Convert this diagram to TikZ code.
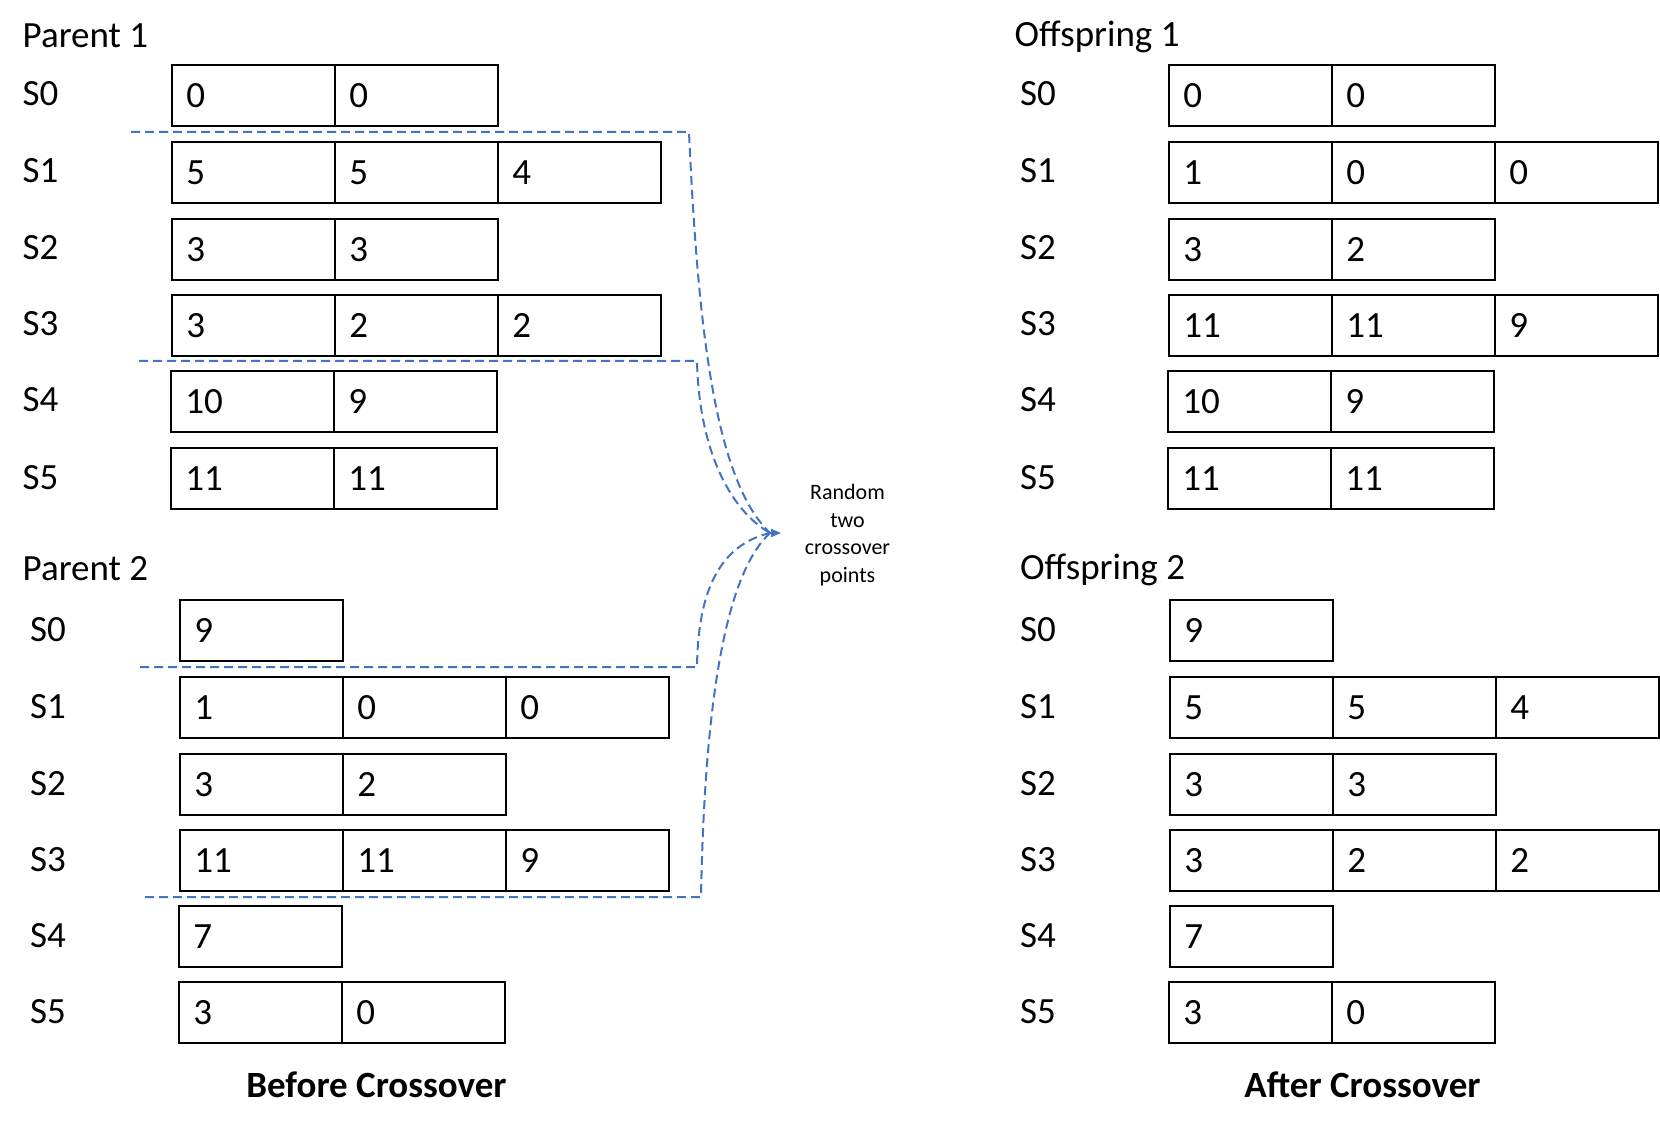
\documentclass[tikz,border=0pt]{standalone}
\usepackage{fontspec}
\setmainfont{Carlito}
\usetikzlibrary{arrows.meta}
\definecolor{dashblue}{HTML}{4472C4}
\newcommand{\gcrow}[4]{%
  \foreach \v [count=\i from 0] in {#4} {\node[cell] (#1-\i) at ({#2+163*\i},#3) {\v};}}
\begin{document}
\begin{tikzpicture}[x=1pt,y=-1pt,
  cell/.style={draw, line width=1.8pt, minimum width=163pt, minimum height=61pt,
    inner xsep=14.5pt, inner ysep=0pt, text width=134pt, align=left,
    text height=23.5pt, text depth=0pt, anchor=north west,
    font=\fontsize{37}{44}\selectfont},
  lbl/.style={anchor=base west, inner sep=0pt, font=\fontsize{37}{44}\selectfont},
  ttl/.style={anchor=base, inner sep=0pt, font=\bfseries\fontsize{37}{44}\selectfont},
  cross/.style={draw=dashblue, line width=2pt, dash pattern=on 9pt off 5pt},
]
\useasboundingbox (0,0) rectangle (1660,1131);
\fill[white] (0,0) rectangle (1660,1131);

% ---------- Parent 1 ----------
\node[lbl] (p1t) at (22.5,48) {Parent 1};
\node[lbl] (p1l0) at (22.5,106) {S0};
\node[lbl] (p1l1) at (22.5,183) {S1};
\node[lbl] (p1l2) at (22.5,260) {S2};
\node[lbl] (p1l3) at (22.5,336) {S3};
\node[lbl] (p1l4) at (22.5,412) {S4};
\node[lbl] (p1l5) at (22.5,489) {S5};
\gcrow{p1s0}{171}{64}{0,0}
\gcrow{p1s1}{171}{141}{5,5,4}
\gcrow{p1s2}{171}{218}{3,3}
\gcrow{p1s3}{171}{294}{3,2,2}
\gcrow{p1s4}{170}{370}{10,9}
\gcrow{p1s5}{170}{447}{11,11}

% ---------- Parent 2 ----------
\node[lbl] (p2t) at (22.5,580) {Parent 2};
\node[lbl] (p2l0) at (30,641) {S0};
\node[lbl] (p2l1) at (30,718) {S1};
\node[lbl] (p2l2) at (30,795) {S2};
\node[lbl] (p2l3) at (30,871) {S3};
\node[lbl] (p2l4) at (30,947) {S4};
\node[lbl] (p2l5) at (30,1023) {S5};
\gcrow{p2s0}{179}{599}{9}
\gcrow{p2s1}{179}{676}{1,0,0}
\gcrow{p2s2}{179}{753}{3,2}
\gcrow{p2s3}{179}{829}{11,11,9}
\gcrow{p2s4}{178}{905}{7}
\gcrow{p2s5}{178}{981}{3,0}

% ---------- Offspring 1 ----------
\node[lbl] (o1t) at (1014.5,47) {Offspring 1};
\node[lbl] (o1l0) at (1020,106) {S0};
\node[lbl] (o1l1) at (1020,183) {S1};
\node[lbl] (o1l2) at (1020,260) {S2};
\node[lbl] (o1l3) at (1020,336) {S3};
\node[lbl] (o1l4) at (1020,412) {S4};
\node[lbl] (o1l5) at (1020,489) {S5};
\gcrow{o1s0}{1168}{64}{0,0}
\gcrow{o1s1}{1168}{141}{1,0,0}
\gcrow{o1s2}{1168}{218}{3,2}
\gcrow{o1s3}{1168}{294}{11,11,9}
\gcrow{o1s4}{1167}{370}{10,9}
\gcrow{o1s5}{1167}{447}{11,11}

% ---------- Offspring 2 ----------
\node[lbl] (o2t) at (1020,579) {Offspring 2};
\node[lbl] (o2l0) at (1020,641) {S0};
\node[lbl] (o2l1) at (1020,718) {S1};
\node[lbl] (o2l2) at (1020,795) {S2};
\node[lbl] (o2l3) at (1020,871) {S3};
\node[lbl] (o2l4) at (1020,947) {S4};
\node[lbl] (o2l5) at (1020,1023) {S5};
\gcrow{o2s0}{1169}{599}{9}
\gcrow{o2s1}{1169}{676}{5,5,4}
\gcrow{o2s2}{1169}{753}{3,3}
\gcrow{o2s3}{1169}{829}{3,2,2}
\gcrow{o2s4}{1169}{905}{7}
\gcrow{o2s5}{1168}{981}{3,0}

% ---------- titles ----------
\node[ttl] (before) at (376.5,1097) {Before Crossover};
\node[ttl] (after) at (1362.5,1097) {After Crossover};

% ---------- crossover points ----------
\coordinate (d1a) at (131,132);
\coordinate (d1b) at (689,132);
\coordinate (d2a) at (139,361);
\coordinate (d2b) at (697,361);
\coordinate (d3a) at (140,667);
\coordinate (d3b) at (697,667);
\coordinate (d4a) at (145,897);
\coordinate (d4b) at (701,897);
\coordinate (tipbase) at (770,533);
\coordinate (tip) at (781,533);

\draw[cross] (d1a) -- (d1b) .. controls (698,330) and (715,480) .. (tipbase);
\draw[cross] (d2a) -- (d2b) .. controls (699,450) and (730,510) .. (tipbase);
\draw[cross] (d3a) -- (d3b) .. controls (698,590) and (720,545) .. (tipbase);
\draw[cross] (d4a) -- (d4b) .. controls (705,680) and (730,570) .. (tipbase);
\draw[dashblue, line width=2pt, -{Triangle[length=10pt,width=8pt]}] (tipbase) -- (tip);

\node[align=center, inner sep=0pt, font=\fontsize{22}{27.5}\selectfont] (note) at (847.5,535)
  {Random\\two\\crossover\\points};
\end{tikzpicture}
\end{document}
